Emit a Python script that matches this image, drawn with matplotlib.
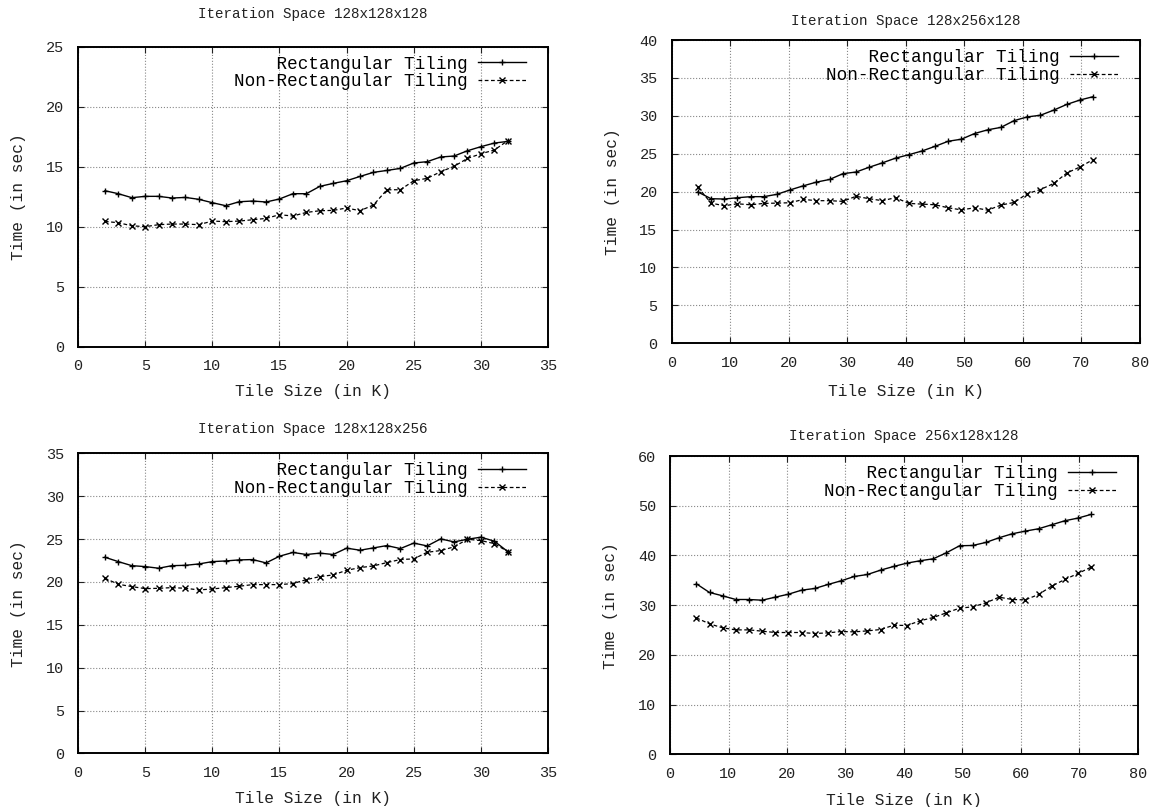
import matplotlib
matplotlib.use('Agg')
import matplotlib.pyplot as plt

plt.rcParams['font.family'] = ['Liberation Mono', 'DejaVu Sans Mono']

# tile sizes (in K)
x_small = [2, 3, 4, 5, 6, 7, 8, 9, 10, 11, 12, 13, 14, 15, 16, 17, 18, 19, 20,
           21, 22, 23, 24, 25, 26, 27, 28, 29, 30, 31, 32]
x_large = [4.5, 6.75, 9, 11.25, 13.5, 15.75, 18, 20.25, 22.5, 24.75, 27, 29.25,
           31.5, 33.75, 36, 38.25, 40.5, 42.75, 45, 47.25, 49.5, 51.75, 54,
           56.25, 58.5, 60.75, 63, 65.25, 67.5, 69.75, 72]

# 128x128x128
rect_a = [13.0, 12.75, 12.42, 12.53, 12.53, 12.39, 12.44, 12.28, 12.0, 11.75,
          12.08, 12.14, 12.06, 12.31, 12.75, 12.75, 13.36, 13.61, 13.83, 14.19,
          14.53, 14.69, 14.86, 15.31, 15.42, 15.81, 15.89, 16.33, 16.67, 16.97,
          17.11]
nonrect_a = [10.44, 10.33, 10.08, 10.0, 10.17, 10.22, 10.22, 10.17, 10.47,
             10.42, 10.47, 10.58, 10.69, 11.0, 10.89, 11.19, 11.33, 11.36,
             11.56, 11.33, 11.81, 13.08, 13.08, 13.83, 14.03, 14.58, 15.03,
             15.69, 16.08, 16.39, 17.17]

# 128x256x128
rect_b = [19.96, 19.07, 19.03, 19.2, 19.34, 19.34, 19.65, 20.23, 20.77, 21.26,
          21.61, 22.37, 22.59, 23.22, 23.8, 24.42, 24.87, 25.36, 25.98, 26.65,
          26.92, 27.67, 28.16, 28.48, 29.37, 29.86, 30.08, 30.75, 31.51, 32.09,
          32.53]
nonrect_b = [20.59, 18.49, 18.14, 18.4, 18.27, 18.45, 18.49, 18.54, 18.98,
             18.81, 18.81, 18.72, 19.39, 19.07, 18.81, 19.21, 18.45, 18.36,
             18.27, 17.87, 17.6, 17.87, 17.56, 18.23, 18.58, 19.74, 20.28,
             21.08, 22.46, 23.26, 24.24]

# 128x128x256
rect_c = [22.88, 22.37, 21.9, 21.79, 21.6, 21.9, 21.94, 22.1, 22.37, 22.45,
          22.57, 22.61, 22.22, 23.0, 23.44, 23.2, 23.36, 23.2, 23.94, 23.7,
          23.97, 24.24, 23.89, 24.53, 24.2, 25.02, 24.67, 24.98, 25.22, 24.75,
          23.54]
nonrect_c = [20.43, 19.73, 19.46, 19.22, 19.26, 19.34, 19.26, 19.07, 19.18,
             19.34, 19.5, 19.69, 19.69, 19.69, 19.81, 20.27, 20.62, 20.82,
             21.36, 21.67, 21.87, 22.26, 22.61, 22.69, 23.46, 23.66, 24.09,
             24.98, 24.82, 24.47, 23.54]

# 256x128x128
rect_d = [34.3, 32.55, 31.88, 31.14, 31.14, 31.0, 31.61, 32.21, 33.02, 33.36,
          34.16, 34.9, 35.77, 36.17, 37.05, 37.79, 38.46, 38.93, 39.33, 40.54,
          41.95, 42.01, 42.62, 43.56, 44.36, 44.9, 45.37, 46.17, 46.98, 47.52,
          48.26]
nonrect_d = [27.45, 26.24, 25.44, 25.03, 25.03, 24.77, 24.5, 24.5, 24.5, 24.3,
             24.43, 24.7, 24.63, 24.83, 25.1, 25.97, 25.91, 26.85, 27.52,
             28.46, 29.4, 29.66, 30.47, 31.61, 31.14, 31.07, 32.15, 33.83,
             35.17, 36.38, 37.65]

titles = ['Iteration Space 128x128x128', 'Iteration Space 128x256x128',
          'Iteration Space 128x128x256', 'Iteration Space 256x128x128']
xs = [x_small, x_large, x_small, x_large]
rects = [rect_a, rect_b, rect_c, rect_d]
nonrects = [nonrect_a, nonrect_b, nonrect_c, nonrect_d]
xlims = [35, 80, 35, 80]
xsteps = [5, 10, 5, 10]
ylims = [25, 40, 35, 60]
ysteps = [5, 5, 5, 10]

positions = [[0.0675, 0.5704, 0.4066, 0.3717],
             [0.5809, 0.5746, 0.4053, 0.3758],
             [0.0675, 0.0663, 0.4066, 0.3720],
             [0.5796, 0.0653, 0.4048, 0.3696]]
title_pads = [20.4, 10.7, 14.4, 11.4]
xlabel_pads = [8, 10, 8, 8.5]

fig = plt.figure(figsize=(11.56, 8.07), dpi=100)
txt = '#222222'

for i in range(4):
    ax = fig.add_axes(positions[i])
    ax.plot(xs[i], rects[i], color='black', lw=1.0, marker='+', ms=5,
            mew=1.0, label='    Rectangular Tiling')
    ax.plot(xs[i], nonrects[i], color='black', lw=0.9, marker='x', ms=4,
            mew=1.0, dashes=(3, 2), label='Non-Rectangular Tiling')
    ax.set_xlim(0, xlims[i])
    ax.set_ylim(0, ylims[i])
    ax.set_xticks(range(0, xlims[i] + 1, xsteps[i]))
    ax.set_yticks(range(0, ylims[i] + 1, ysteps[i]))
    ax.grid(True, linestyle=':', color='#888888', lw=0.8)
    ax.tick_params(direction='in', top=True, right=True, length=4,
                   labelsize=11, colors=txt, labelcolor=txt)
    ax.tick_params(axis='x', pad=9)
    ax.tick_params(axis='y', pad=10)
    for s in ax.spines.values():
        s.set_linewidth(1.4)
    ax.set_title(titles[i], fontsize=10.3, color=txt, pad=title_pads[i])
    ax.set_xlabel('Tile Size (in K)', fontsize=11.7, color=txt,
                  labelpad=xlabel_pads[i])
    ax.set_ylabel('Time (in sec)', fontsize=11.7, color=txt, labelpad=14)
    ax.legend(loc='upper right', bbox_to_anchor=(0.972, 1.0), frameon=False,
              markerfirst=False, fontsize=12.7, handlelength=2.7,
              handletextpad=0.6, labelspacing=0.05, borderaxespad=0.3,
              borderpad=0.2)

fig.savefig('out.png', dpi=100)
